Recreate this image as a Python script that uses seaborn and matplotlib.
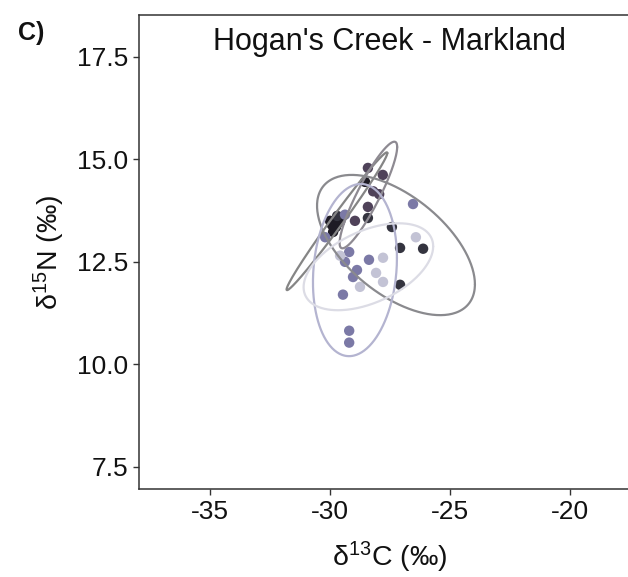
import numpy as np
import pandas as pd
import matplotlib
matplotlib.use("Agg")
import matplotlib.pyplot as plt
import seaborn as sns

# ---- data ----
groups = ["black", "purple", "slate", "lavender", "light"]
point_colors = ["#1e1b24", "#4f4259", "#34343f", "#7b79a6", "#c3c3d5"]
ellipse_colors = ["#858585", "#8e8a92", "#8a8a8e", "#b4b4d0", "#dcdce5"]

black_x = [-28.54, -29.92, -29.58, -29.87, -30.0, -29.75]
black_y = [14.45, 13.40, 13.48, 13.23, 13.50, 13.35]
purple_x = [-28.42, -27.80, -28.20, -27.95, -28.42, -28.96]
purple_y = [14.79, 14.62, 14.22, 14.15, 13.84, 13.50]
slate_x = [-28.42, -29.70, -27.42, -27.08, -26.12, -27.08]
slate_y = [13.57, 13.62, 13.35, 12.84, 12.82, 11.94]
lavender_x = [-26.54, -29.375, -30.2, -29.2, -29.375, -28.875, -29.04, -28.375, -29.46, -29.2, -29.2]
lavender_y = [13.91, 13.65, 13.10, 12.74, 12.50, 12.30, 12.13, 12.55, 11.70, 10.82, 10.53]
light_x = [-26.42, -27.79, -29.58, -28.08, -27.79, -28.75]
light_y = [13.10, 12.60, 12.65, 12.23, 12.01, 11.89]

# ellipse parameters: centre x, centre y, half x-range, half y-range, correlation
ell_cx = [-29.71, -28.40, -27.25, -28.96, -28.40]
ell_cy = [13.49, 14.13, 12.91, 12.30, 12.38]
ell_sx = [2.10, 1.20, 3.29, 1.75, 2.70]
ell_sy = [1.68, 1.30, 1.71, 2.10, 1.06]
ell_rho = [0.99, 0.90, -0.56, 0.14, 0.47]

x_ticks = [-35, -30, -25, -20]
y_ticks = [7.5, 10.0, 12.5, 15.0, 17.5]
title = "Hogan's Creek - Markland"
panel_tag = "C)"

# ---- build frame ----
xs = [black_x, purple_x, slate_x, lavender_x, light_x]
ys = [black_y, purple_y, slate_y, lavender_y, light_y]
df = pd.concat([pd.DataFrame({"d13C": x, "d15N": y, "group": g})
                for g, x, y in zip(groups, xs, ys)], ignore_index=True)

sns.set_theme(style="white")
plt.rcParams["font.family"] = ["Liberation Sans", "DejaVu Sans"]
plt.rcParams["mathtext.fontset"] = "custom"
plt.rcParams["mathtext.rm"] = "Liberation Sans"
plt.rcParams["mathtext.it"] = "Liberation Sans:italic"
plt.rcParams["axes.unicode_minus"] = False

fig = plt.figure(figsize=(6.28, 5.77), dpi=100)
ax = fig.add_axes([139/628, 88/577, (640-139)/628, (489-15)/577])

sns.scatterplot(data=df, x="d13C", y="d15N", hue="group",
                palette=dict(zip(groups, point_colors)), hue_order=groups,
                s=56, linewidth=0, alpha=1.0, legend=False, ax=ax, zorder=2)

t = np.linspace(0, 2*np.pi, 300)
for cx, cy, sx, sy, r, c in zip(ell_cx, ell_cy, ell_sx, ell_sy, ell_rho, ellipse_colors):
    ex = cx + sx*np.cos(t)
    ey = cy + sy*(r*np.cos(t) + np.sqrt(1 - r*r)*np.sin(t))
    ax.plot(ex, ey, color=c, lw=1.6, zorder=3)

ax.set_xlim(-37.96, -17.08)
ax.set_ylim(6.96, 18.52)
ax.set_xticks(x_ticks)
ax.set_xticklabels([str(v) for v in x_ticks])
ax.set_yticks(y_ticks)
ax.set_yticklabels([f"{v:.1f}" for v in y_ticks])

for sp in ax.spines.values():
    sp.set_color("#333333")
    sp.set_linewidth(1.1)
ax.tick_params(axis="both", which="major", length=4, width=1, color="#333333",
               labelsize=19, labelcolor="#111111", pad=4, bottom=True, left=True)

ax.set_xlabel(r"δ$\mathregular{^{13}}$C (‰)", fontsize=20.5, color="#111111", labelpad=11)
ax.set_ylabel(r"δ$\mathregular{^{15}}$N (‰)", fontsize=20.5, color="#111111", labelpad=7)

fig.text(389.5/628, 1 - 50/577, title, ha="center", va="baseline", fontsize=22, color="#111111")
fig.text(18/628, 1 - 40/577, panel_tag, ha="left", va="baseline", fontsize=18,
         fontweight="bold", color="#111111")

fig.savefig("out.png", dpi=100)
